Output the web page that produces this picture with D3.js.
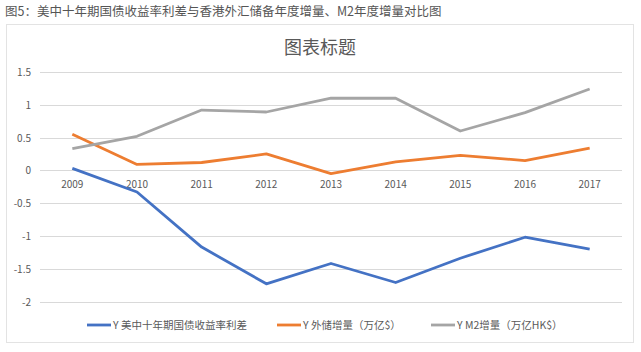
<!DOCTYPE html>
<html lang="zh">
<head>
<meta charset="utf-8">
<script src="https://d3js.org/d3.v7.min.js"></script>
<style>
  body { margin: 0; background: #fff; }
  text { font-family: "Noto Sans CJK SC", "Noto Sans", sans-serif; }
</style>
</head>
<body>
<div id="chart"></div>
<script>
  const years = ["2009", "2010", "2011", "2012", "2013", "2014", "2015", "2016", "2017"];
  const spread = [0.03, -0.33, -1.17, -1.73, -1.42, -1.71, -1.34, -1.02, -1.2];
  const reserves = [0.55, 0.09, 0.12, 0.25, -0.05, 0.13, 0.23, 0.15, 0.34];
  const m2 = [0.33, 0.52, 0.92, 0.89, 1.1, 1.1, 0.6, 0.88, 1.24];
  const yTicks = [1.5, 1, 0.5, 0, -0.5, -1, -1.5, -2];
  const seriesNames = ["Y 美中十年期国债收益率利差", "Y 外储增量（万亿$）", "Y M2增量（万亿HK$）"];

  var width = 641, height = 352;
  var colors = ["#4472C4", "#ED7D31", "#A5A5A5"];

  var svg = d3.select("#chart").append("svg")
      .attr("width", width)
      .attr("height", height);

  // page caption above the chart frame
  svg.append("text")
      .attr("x", 5).attr("y", 16)
      .attr("font-size", 12.5)
      .attr("fill", "#555")
      .text("图5：美中十年期国债收益率利差与香港外汇储备年度增量、M2年度增量对比图");

  // chart frame
  svg.append("rect")
      .attr("x", 6.5).attr("y", 24.5)
      .attr("width", 627).attr("height", 318)
      .attr("fill", "#fff")
      .attr("stroke", "#e3e3e3");

  svg.append("text")
      .attr("x", 320).attr("y", 54)
      .attr("text-anchor", "middle")
      .attr("font-size", 18)
      .attr("fill", "#595959")
      .text("图表标题");

  var x = d3.scaleBand().domain(years).range([40, 622]);
  var y = d3.scaleLinear().domain([-2, 1.5]).range([301.5, 72]);

  // gridlines
  svg.append("g").selectAll("line")
      .data(yTicks)
      .join("line")
      .attr("x1", 40).attr("x2", 622)
      .attr("y1", d => Math.round(y(d)) + 0.5)
      .attr("y2", d => Math.round(y(d)) + 0.5)
      .attr("stroke", "#d9d9d9");

  // y axis labels
  svg.append("g").selectAll("text")
      .data(yTicks)
      .join("text")
      .attr("x", 31)
      .attr("y", d => y(d) + 4)
      .attr("text-anchor", "end")
      .attr("font-size", 10)
      .attr("fill", "#595959")
      .text(d => d);

  // category labels sit under the zero line
  svg.append("g").selectAll("text")
      .data(years)
      .join("text")
      .attr("x", d => x(d) + x.bandwidth() / 2)
      .attr("y", y(0) + 18)
      .attr("text-anchor", "middle")
      .attr("font-size", 10)
      .attr("fill", "#595959")
      .text(d => d);

  var line = d3.line()
      .x((d, i) => x(years[i]) + x.bandwidth() / 2)
      .y(d => y(d));

  [spread, reserves, m2].forEach(function(s, i) {
    svg.append("path")
        .datum(s)
        .attr("d", line)
        .attr("fill", "none")
        .attr("stroke", colors[i])
        .attr("stroke-width", 2.8)
        .attr("stroke-linejoin", "round");
  });

  // legend
  var legendX = [87, 277, 431];
  var legend = svg.append("g").selectAll("g")
      .data(seriesNames)
      .join("g")
      .attr("transform", (d, i) => "translate(" + legendX[i] + ",325)");
  legend.append("line")
      .attr("x1", 0).attr("x2", 24)
      .attr("stroke", (d, i) => colors[i])
      .attr("stroke-width", 2.8);
  legend.append("text")
      .attr("x", 26).attr("y", 4)
      .attr("font-size", 10.5)
      .attr("fill", "#595959")
      .text(d => d);
</script>
</body>
</html>
